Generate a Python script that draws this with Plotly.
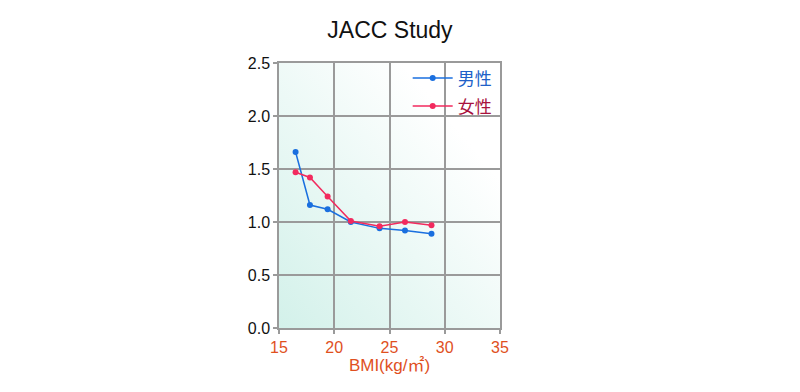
import base64
import plotly.graph_objects as go

# Data
bmi = [16.5, 17.8, 19.4, 21.5, 24.1, 26.4, 28.8]
male = [1.66, 1.16, 1.12, 1.00, 0.94, 0.92, 0.89]
female = [1.47, 1.42, 1.24, 1.01, 0.96, 1.00, 0.97]
x_ticks = [15, 20, 25, 30, 35]
y_ticks = [0.0, 0.5, 1.0, 1.5, 2.0, 2.5]
y_tick_labels = ["0.0", "0.5", "1.0", "1.5", "2.0", "2.5"]

male_color = "#1a6fdf"
female_color = "#f22a5e"
orange = "#e0501e"

svg = ('<svg xmlns="http://www.w3.org/2000/svg" width="100" height="100" preserveAspectRatio="none" viewBox="0 0 100 100">'
       '<defs><linearGradient id="g" x1="0" y1="1" x2="1" y2="0">'
       '<stop offset="0" stop-color="#d3f1ea"/><stop offset="0.78" stop-color="#ffffff"/>'
       '<stop offset="1" stop-color="#ffffff"/></linearGradient></defs>'
       '<rect width="100" height="100" fill="url(#g)"/></svg>')
src = "data:image/svg+xml;base64," + base64.b64encode(svg.encode()).decode()

font_family = "Liberation Sans, Arial, Noto Sans CJK JP, sans-serif"

fig = go.Figure()
fig.add_trace(go.Scatter(
    x=bmi, y=male, mode="lines+markers", legendgroup="m",
    name='<span style="color:#2060c8">男性</span>',
    line=dict(color=male_color, width=1.5),
    marker=dict(color=male_color, size=6),
))
fig.add_trace(go.Scatter(
    x=bmi, y=female, mode="lines+markers", legendgroup="f",
    name='<span style="color:#a8123e">女性</span>',
    line=dict(color=female_color, width=1.5),
    marker=dict(color=female_color, size=6),
))

fig.update_layout(
    width=800, height=392,
    margin=dict(l=271, r=308, t=55, b=72),
    paper_bgcolor="white",
    plot_bgcolor="rgba(0,0,0,0)",
    font=dict(family=font_family, size=14, color="#222222"),
    title=dict(text="JACC Study", x=0.4775, xanchor="center", y=0.945, yanchor="middle",
               font=dict(size=23, color="#111111")),
    showlegend=True,
    legend=dict(x=0.985, xanchor="right", y=1.01, yanchor="top",
                bgcolor="rgba(0,0,0,0)", font=dict(size=17),
                tracegroupgap=3, itemwidth=40),
    images=[dict(source=src, xref="paper", yref="paper", x=0, y=1,
                 sizex=1, sizey=1, sizing="stretch", layer="below")],
)
fig.update_xaxes(
    range=[15, 35], tickvals=x_ticks, ticktext=[str(v) for v in x_ticks],
    showgrid=True, gridcolor="#9a9a9a", gridwidth=1.5,
    showline=True, linecolor="#9a9a9a", linewidth=1.5, mirror=True,
    ticks="outside", ticklen=4, tickcolor="#9a9a9a", tickwidth=1.5,
    tickfont=dict(color=orange, size=16),
    title=dict(text="BMI(kg/㎡)", font=dict(color=orange, size=17), standoff=3),
    zeroline=False,
)
fig.update_yaxes(
    range=[0, 2.5], tickvals=y_ticks, ticktext=y_tick_labels,
    showgrid=True, gridcolor="#9a9a9a", gridwidth=1.5,
    showline=True, linecolor="#9a9a9a", linewidth=1.5, mirror=True,
    ticks="outside", ticklen=4, tickcolor="#9a9a9a", tickwidth=1.5,
    tickfont=dict(color="#111111", size=16),
    zeroline=False,
)

fig.write_html("out.html")
